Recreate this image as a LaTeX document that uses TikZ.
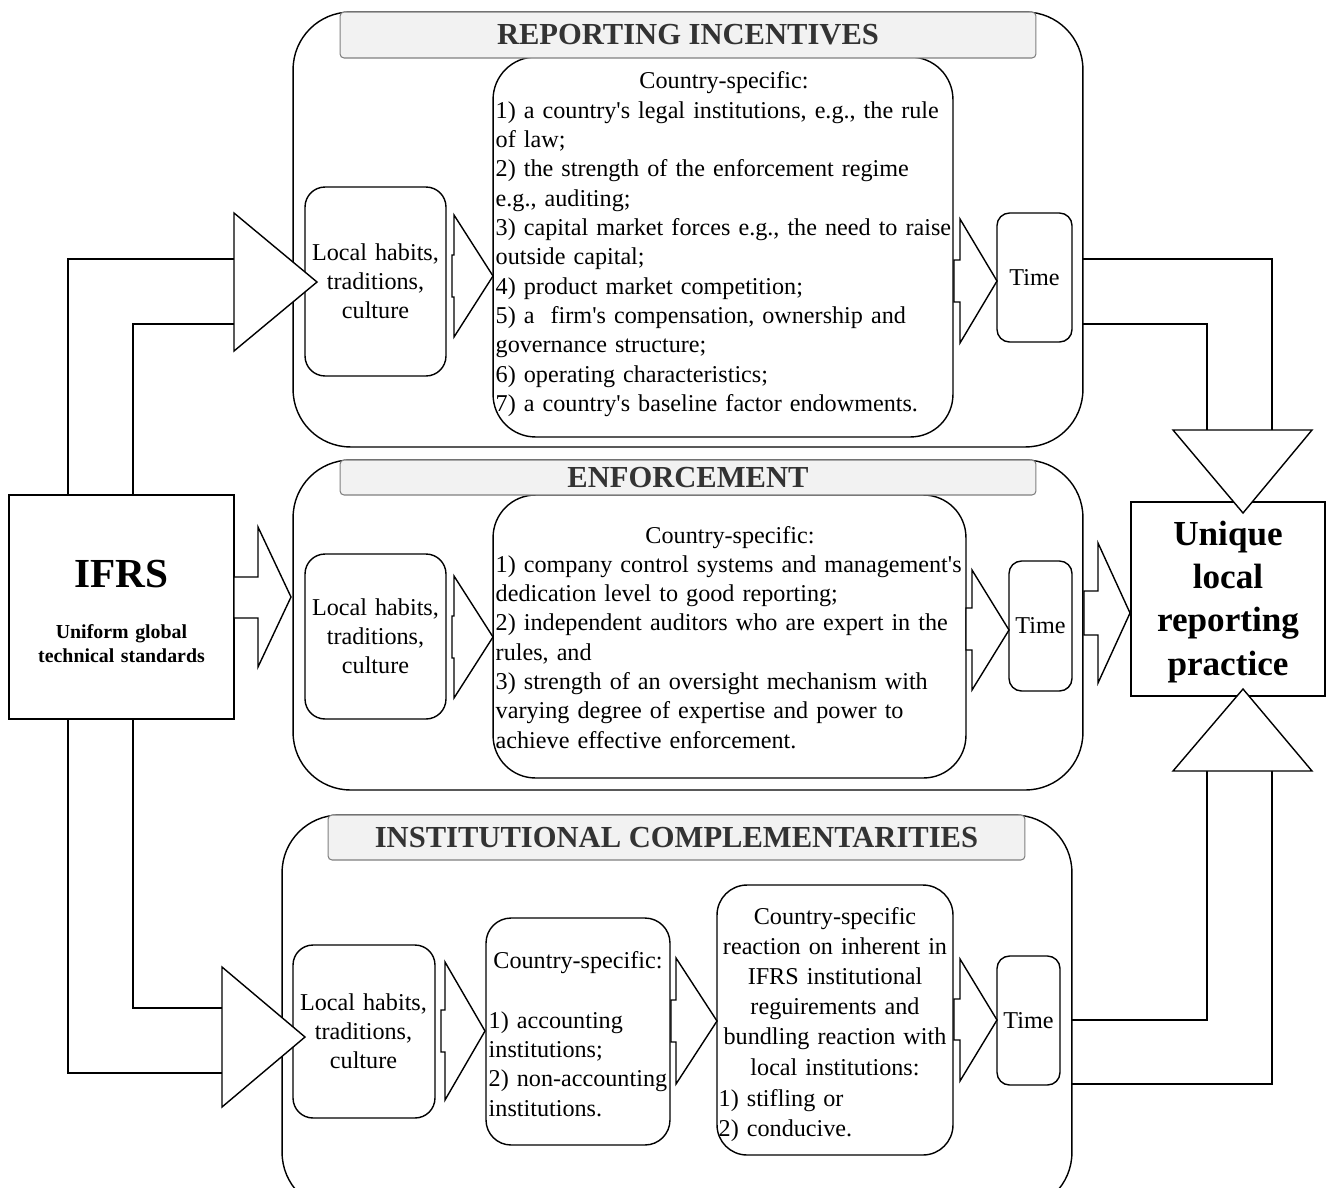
\documentclass[tikz,border=0pt]{standalone}
\usepackage{fontspec}
\setmainfont{Liberation Serif}[Ligatures=TeXOff]

\begin{document}
\begin{tikzpicture}[x=0.02cm, y=-0.02cm, line width=0.8pt,
        panel/.style={draw, rounded corners=1.15cm, minimum width=15.8cm, inner sep=0pt, outer sep=0pt},
        titlebar/.style={draw=black!50, fill=black!5, line width=0.6pt, rounded corners=0.08cm, inner sep=0pt,
                font=\fontsize{17.4}{20}\selectfont\bfseries, text=black!80},
        plainbox/.style={draw, inner sep=0pt, outer sep=0pt},
        localbox/.style={draw, rounded corners=0.4cm, inner sep=0pt, outer sep=0pt},
        timebox/.style={draw, rounded corners=0.25cm, inner sep=0pt, outer sep=0pt, font=\fontsize{13.75}{16.7}\selectfont},
        mainbox/.style={draw, rounded corners=0.85cm, inner sep=0pt, outer sep=0pt},
        body/.style={font=\fontsize{13.75}{16.7}\selectfont, inner sep=0pt},
        fat/.style={draw, fill=white}]
        \path[use as bounding box, fill=white] (0,0) rectangle (1328,1187);

        \node[panel, minimum height=8.7cm] (incPanel) at (688,229.5) {};
        \node[panel, minimum height=6.6cm] (enfPanel) at (688,625) {};
        \node[panel, minimum height=7.9cm] (insPanel) at (677,1012.5) {};

        \node[mainbox, minimum width=9.2cm, minimum height=7.6cm] (incMain) at (723,247) {};
        \node[mainbox, minimum width=9.46cm, minimum height=5.66cm] (enfMain) at (729.5,636.5) {};
        \node[localbox, rounded corners=0.5cm, minimum width=3.68cm, minimum height=4.54cm] (insAcc) at (578,1031.5) {};
        \node[localbox, rounded corners=0.6cm, minimum width=4.72cm, minimum height=5.4cm] (insReact) at (835,1020) {};

        \node[titlebar, minimum width=13.92cm, minimum height=0.92cm] (incTitle) at (688,35) {REPORTING INCENTIVES};
        \node[titlebar, minimum width=13.92cm, minimum height=0.7cm] (enfTitle) at (688,477.5) {ENFORCEMENT};
        \node[titlebar, minimum width=13.94cm, minimum height=0.9cm] (insTitle) at (676.5,837.5) {INSTITUTIONAL COMPLEMENTARITIES};

        \node[localbox, minimum width=2.82cm, minimum height=3.78cm] (incLocal) at (375.5,281.5) {};
        \node[localbox, minimum width=2.82cm, minimum height=3.3cm] (enfLocal) at (375.5,636.5) {};
        \node[localbox, minimum width=2.84cm, minimum height=3.46cm] (insLocal) at (364,1031.5) {};

        \node[timebox, minimum width=1.5cm, minimum height=2.58cm] (incTime) at (1034.5,277.5) {Time};
        \node[timebox, minimum width=1.26cm, minimum height=2.6cm] (enfTime) at (1040.5,626) {Time};
        \node[timebox, minimum width=1.26cm, minimum height=2.58cm] (insTime) at (1028.5,1020.5) {Time};

        \node[plainbox, minimum width=4.5cm, minimum height=4.48cm] (ifrs) at (121.5,607) {};
        \node[plainbox, minimum width=3.88cm, minimum height=3.88cm] (unique) at (1228,599) {};

        \node[body, text width=2.8cm, align=center, anchor=base] (incLocalTxt) at (375.5,260) {Local habits,\\ traditions,\\ culture};
        \node[body, text width=2.8cm, align=center, anchor=base] (enfLocalTxt) at (375.5,615) {Local habits,\\ traditions,\\ culture};
        \node[body, text width=2.8cm, align=center, anchor=base] (insLocalTxt) at (363.5,1010) {Local habits,\\ traditions,\\ culture};

        \node[body, anchor=base] (incCountry) at (724,88) {Country-specific:};
        \node[body, text width=10.5cm, align=left, anchor=base west] (incList) at (495,118) {1) a country's legal institutions, e.g., the rule\\
                of law;\\ 2) the strength of the enforcement regime\\ e.g., auditing;\\
                3) capital market forces e.g., the need to raise\\ outside capital;\\
                4) product market competition;\\ 5) a\ \ firm's compensation, ownership and\\
                governance structure;\\ 6) operating characteristics;\\ 7) a country's baseline factor endowments.};

        \node[body, anchor=base] (enfCountry) at (730,543) {Country-specific:};
        \node[body, text width=10.5cm, align=left, anchor=base west] (enfList) at (495,572) {1) company control systems and management's\\
                dedication level to good reporting;\\ 2) independent auditors who are expert in the\\ rules, and\\
                3) strength of an oversight mechanism with\\ varying degree of expertise and power to\\
                achieve effective enforcement.};

        \node[body, anchor=base] (insAccCountry) at (578,968) {Country-specific:};
        \node[body, text width=5cm, align=left, anchor=base west] (insAccList) at (488,1028) {1) accounting\\ institutions;\\
                2) non-accounting\\ institutions.};

        \node[body, font=\fontsize{13.75}{17.2}\selectfont, text width=4.7cm, align=center, anchor=base] (insReactTxt) at (835,924)
                {Country-specific\\ reaction on inherent in\\ IFRS institutional\\ reguirements and\\ bundling reaction with\\ local institutions:};
        \node[body, font=\fontsize{13.75}{17.2}\selectfont, text width=4.6cm, align=left, anchor=base west] (insReactList) at (718,1106)
                {1) stifling or\\ 2) conducive.};

        \node[font=\fontsize{23.5}{28}\selectfont\bfseries, anchor=base] (ifrsName) at (121.5,587) {IFRS};
        \node[font=\fontsize{11.3}{14.2}\selectfont\bfseries, text width=4.4cm, align=center, anchor=base, inner sep=0pt] (ifrsSub) at (121.5,638)
                {Uniform global\\ technical standards};
        \node[font=\fontsize{20}{24.7}\selectfont\bfseries, text width=3.8cm, align=center, anchor=base, inner sep=0pt] (uniqueTxt) at (1228,545)
                {Unique\\ local\\ reporting\\ practice};

        \coordinate (incOuter) at (234,259);
        \coordinate (incInner) at (234,324);
        \coordinate (insInner) at (222,1008);
        \coordinate (insOuter) at (222,1073);
        \coordinate (downOuter) at (1272,430);
        \coordinate (downInner) at (1207,430);
        \coordinate (upInner) at (1207,771);
        \coordinate (upOuter) at (1272,771);

        \draw (ifrs.north -| 68,0) |- (incOuter);
        \draw (ifrs.north -| 133,0) |- (incInner);
        \draw (ifrs.south -| 133,0) |- (insInner);
        \draw (ifrs.south -| 68,0) |- (insOuter);
        \draw (incPanel.east |- 0,259) -| (downOuter);
        \draw (incPanel.east |- 0,324) -| (downInner);
        \draw (insPanel.east |- 0,1020) -| (upInner);
        \draw (insPanel.east |- 0,1084) -| (upOuter);

        \draw[fat] (234,213) -- (317,282) -- (234,351) -- cycle;
        \draw[fat] (222,967) -- (305,1037) -- (222,1107) -- cycle;
        \draw[fat] (1173,430) -- (1312,430) -- (1243,513) -- cycle;
        \draw[fat] (1173,771) -- (1312,771) -- (1243,689) -- cycle;

        \draw[fat] (234,577) -- (258,577) -- (258,527) -- (291,597) -- (258,667) -- (258,618) -- (234,618) -- cycle;
        \draw[fat] (1084,591) -- (1098,591) -- (1098,543) -- (1130,613) -- (1098,683) -- (1098,635) -- (1084,635) -- cycle;
        \draw[fat] (452,255) -- (454,255) -- (454,215) -- (493,276) -- (454,337) -- (454,297) -- (452,297) -- cycle;
        \draw[fat] (452,616) -- (454,616) -- (454,576) -- (493,637) -- (454,698) -- (454,658) -- (452,658) -- cycle;
        \draw[fat] (954,260) -- (960,260) -- (960,219) -- (997,281) -- (960,343) -- (960,302) -- (954,302) -- cycle;
        \draw[fat] (966,608) -- (972,608) -- (972,570) -- (1009,630) -- (972,690) -- (972,650) -- (966,650) -- cycle;
        \draw[fat] (441,1010) -- (445,1010) -- (445,962) -- (485,1031) -- (445,1100) -- (445,1052) -- (441,1052) -- cycle;
        \draw[fat] (671,1000) -- (676,1000) -- (676,958) -- (717,1021) -- (676,1084) -- (676,1042) -- (671,1042) -- cycle;
        \draw[fat] (954,999) -- (960,999) -- (960,959) -- (997,1020) -- (960,1081) -- (960,1040) -- (954,1040) -- cycle;
      \end{tikzpicture}
\end{document}
